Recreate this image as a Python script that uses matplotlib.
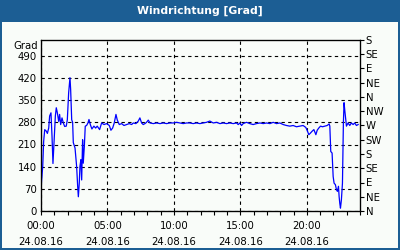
"""
Windrichtung chart: wind direction in degrees over one day (24.08.16),
left axis in degrees, right axis with compass points.
"""

import matplotlib
matplotlib.use('Agg')
from matplotlib import pyplot as plt
from matplotlib.patches import Rectangle

# time of day in hours and wind direction in degrees
hours = [0.0, 0.03, 0.13, 0.2, 0.28, 0.4, 0.48, 0.58, 0.65, 0.75, 0.83, 0.9,
         0.98, 1.08, 1.15, 1.23, 1.33, 1.4, 1.48, 1.58, 1.68, 1.78, 1.9, 1.98,
         2.08, 2.18, 2.23, 2.31, 2.38, 2.43, 2.56, 2.68, 2.76, 2.81, 2.88,
         2.93, 3.0, 3.06, 3.13, 3.18, 3.26, 3.33, 3.43, 3.53, 3.61, 3.71, 3.83,
         3.98, 4.11, 4.23, 4.41, 4.56, 4.74, 4.94, 5.14, 5.26, 5.39, 5.51,
         5.64, 5.74, 5.89, 6.07, 6.24, 6.44, 6.64, 6.82, 6.94, 7.14, 7.32,
         7.44, 7.57, 7.69, 7.82, 7.94, 8.07, 8.2, 8.45, 8.7, 8.95, 9.2, 9.45,
         9.7, 9.95, 10.2, 10.45, 10.7, 10.95, 11.2, 11.45, 11.7, 11.95, 12.2,
         12.45, 12.7, 12.96, 13.21, 13.46, 13.71, 13.96, 14.21, 14.46, 14.71,
         14.84, 14.96, 15.09, 15.21, 15.46, 15.71, 15.96, 16.21, 16.47, 16.72,
         16.97, 17.22, 17.47, 17.72, 17.97, 18.22, 18.47, 18.72, 18.97, 19.22,
         19.47, 19.72, 19.92, 20.02, 20.15, 20.27, 20.4, 20.53, 20.68, 20.78,
         20.9, 21.03, 21.18, 21.35, 21.53, 21.68, 21.73, 21.8, 21.9, 21.98,
         22.05, 22.15, 22.23, 22.3, 22.38, 22.43, 22.48, 22.53, 22.6, 22.68,
         22.75, 22.8, 22.85, 22.93, 22.98, 23.1, 23.23, 23.35, 23.48, 23.6,
         23.73, 23.86]
direction = [56, 88, 141, 220, 257, 252, 245, 262, 300, 310, 235, 150,
             216, 300, 326, 310, 283, 305, 273, 294, 278, 267, 268, 288,
             373, 421, 384, 288, 280, 216, 199, 141, 77, 45, 88,
             141, 162, 98, 225, 151, 204, 268, 270, 278, 289, 273, 259,
             268, 262, 268, 257, 278, 273, 276, 270, 255, 262, 278,
             305, 287, 273, 276, 270, 273, 276, 273, 278, 276, 284,
             294, 278, 273, 276, 280, 287, 278, 276, 278, 276, 278, 276,
             278, 278, 280, 278, 276, 278, 278, 276, 278, 276, 278,
             280, 284, 278, 280, 276, 278, 276, 278, 276, 278,
             273, 278, 270, 276, 280, 276, 273, 276, 278, 276,
             278, 276, 280, 276, 278, 273, 270, 268, 270, 266,
             268, 270, 264, 255, 241, 246, 252, 257, 241, 255,
             262, 268, 266, 268, 270, 275, 268, 188, 183, 109,
             88, 83, 67, 62, 78, 45, 24, 9, 35, 88,
             278, 342, 320, 289, 268, 278, 270, 278, 273, 278,
             270, 273]

deg_ticks = [0, 70, 140, 210, 280, 350, 420, 490]
compass_ticks = [0, 45, 90, 135, 180, 225, 270, 315, 360, 405, 450, 495, 540]
compass_labels = ['N', 'NE', 'E', 'SE', 'S', 'SW', 'W', 'NW',
                  'N', 'NE', 'E', 'SE', 'S']
time_ticks = [0, 5, 10, 15, 20]
time_labels = ['00:00\n24.08.16', '05:00\n24.08.16', '10:00\n24.08.16',
               '15:00\n24.08.16', '20:00\n24.08.16']

title_blue = '#1c5e94'
body_bg = '#f9fcf9'

plt.rcParams['font.family'] = 'DejaVu Sans'
plt.rcParams['font.size'] = 7.3

fig = plt.figure(figsize=(4, 2.5), dpi=100, facecolor=title_blue)
# light body inside the blue frame, leaving a title bar on top
fig.patches.append(Rectangle((2 / 400, 2 / 250), 396 / 400, 226 / 250,
                             transform=fig.transFigure, facecolor=body_bg,
                             edgecolor='none', zorder=-5))
fig.text(0.5, 1 - 11 / 250, 'Windrichtung [Grad]', color='white',
         fontweight='bold', fontsize=7.8, ha='center', va='center')

ax = fig.add_axes([41 / 400, 39 / 250, 319 / 400, 171 / 250])
ax.set_facecolor(body_bg)
ax.plot(hours, direction, color='#0000ff', linewidth=0.9, zorder=3)

ax.set_xlim(0, 24)
ax.set_ylim(0, 540)
ax.set_yticks(deg_ticks)
ax.set_xticks(time_ticks)
ax.set_xticklabels(time_labels, linespacing=1.7)
ax.set_xticks(range(0, 25), minor=True)
ax.tick_params(axis='x', which='both', length=3, width=0.8, direction='out',
               pad=4.5, colors='black')
ax.tick_params(axis='y', length=0, pad=3)
ax.grid(True, which='major', color='black', linestyle=(0, (3, 3)),
        linewidth=0.8)
ax.set_axisbelow(True)
for sp in ax.spines.values():
    sp.set_linewidth(0.9)
ax.text(-0.01, 1 - 6 / 171, 'Grad', transform=ax.transAxes,
        ha='right', va='center')

ax2 = ax.twinx()
ax2.set_ylim(0, 540)
ax2.set_yticks(compass_ticks)
ax2.set_yticklabels(compass_labels)
ax2.tick_params(axis='y', length=3, width=0.8, pad=1)

fig.savefig('out.png', dpi=100, facecolor=title_blue)
